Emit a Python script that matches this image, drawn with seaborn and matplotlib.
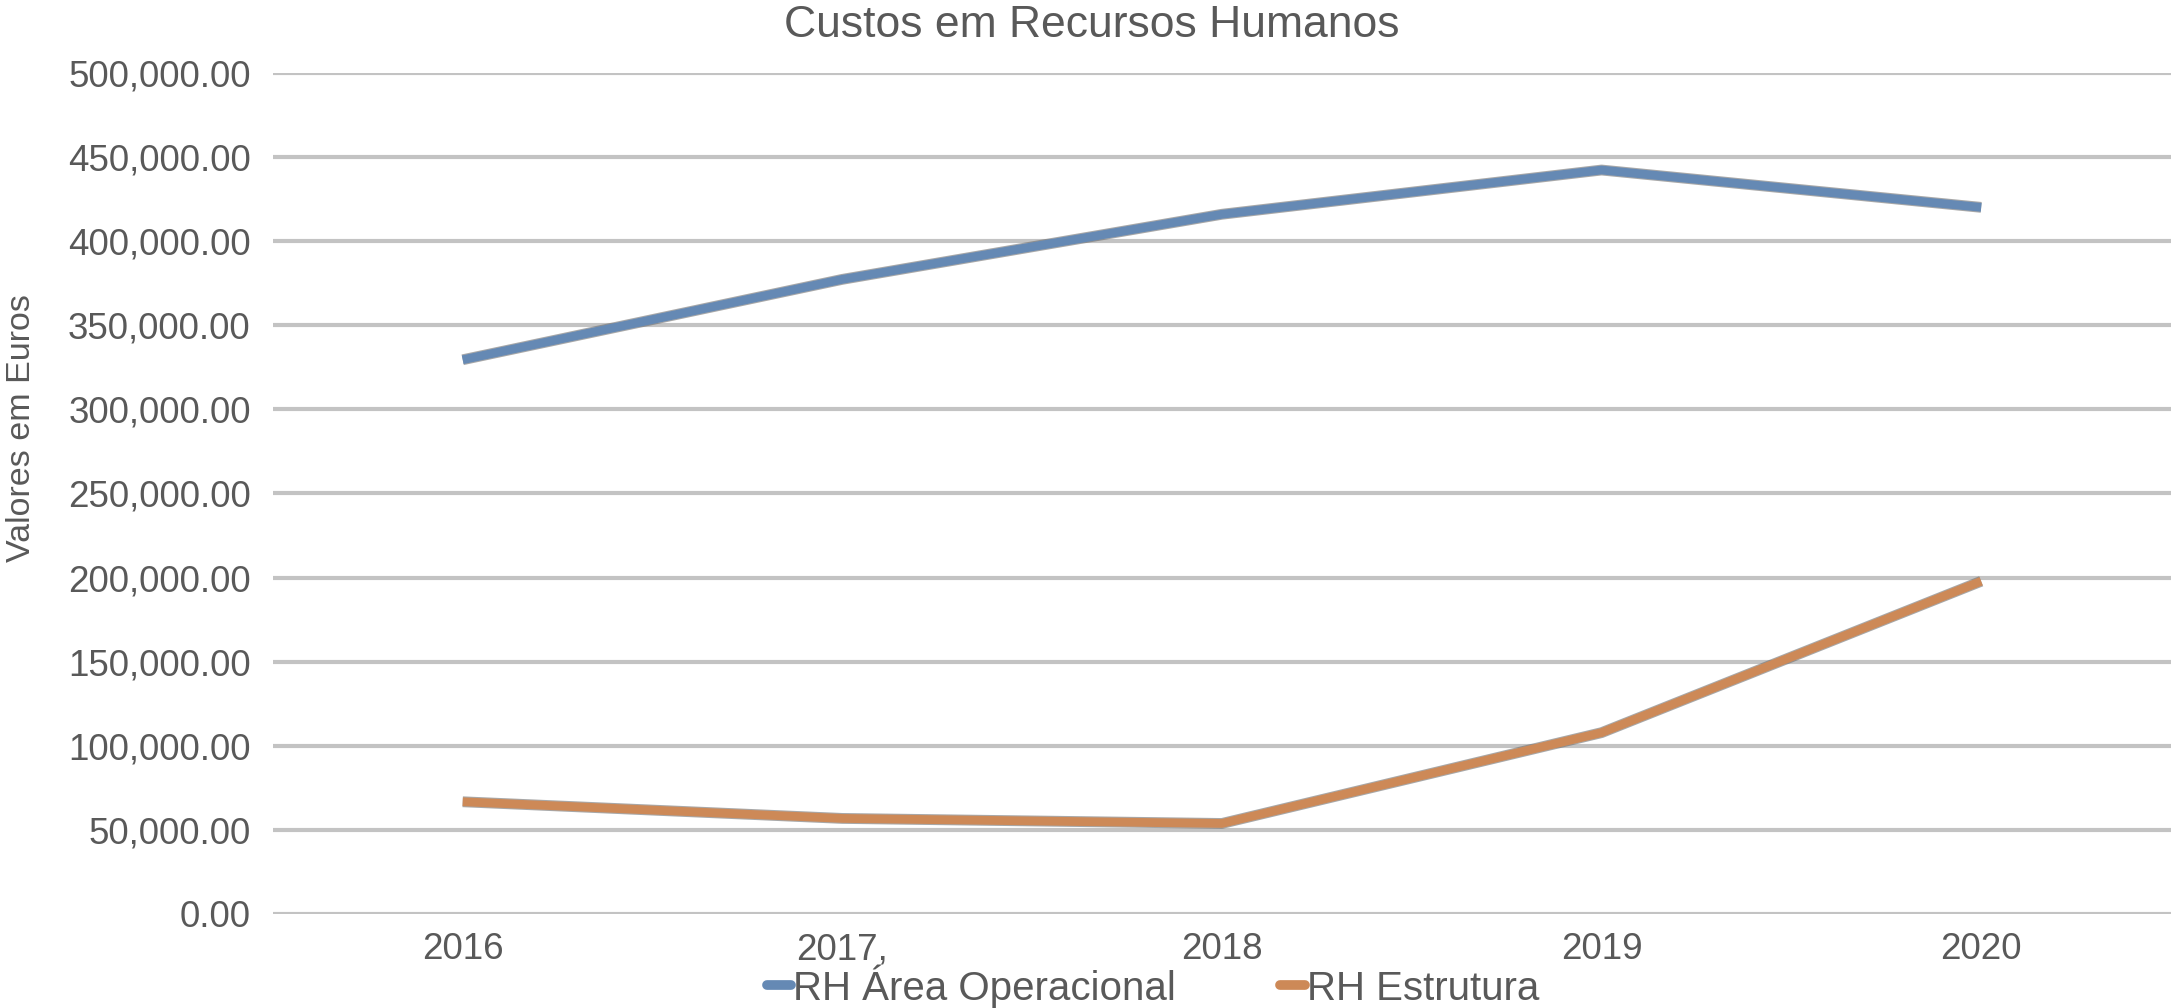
import numpy as np
import pandas as pd
import matplotlib.pyplot as plt
import matplotlib.patheffects as pe
from matplotlib.lines import Line2D
from matplotlib.ticker import FuncFormatter
import seaborn as sns


# =============================================================================
# DADOS
# =============================================================================
anos = ["2016", "2017", "2018", "2019", "2020"]
rotulos_anos = ["2016", "2017,", "2018", "2019", "2020"]

rh_operacional = [329500, 377300, 416000, 442300, 420100]
rh_estrutura = [66700, 56800, 53800, 107800, 197800]

series = ["RH Área Operacional", "RH Estrutura"]
cores = ["#6589b4", "#cd8957"]

df = pd.DataFrame(
    {
        "ano": anos * 2,
        "valor": rh_operacional + rh_estrutura,
        "serie": [series[0]] * len(anos) + [series[1]] * len(anos),
    }
)


# =============================================================================
# GRÁFICO
# =============================================================================
sns.set_theme(style="white")
plt.rcParams["font.family"] = ["Liberation Sans", "DejaVu Sans"]

cinza = "#595959"

fig = plt.figure(figsize=(21.71, 10.08), dpi=100)
ax = fig.add_axes([0.1257, 0.0933, 0.8743, 0.8343])

sns.lineplot(
    data=df,
    x="ano",
    y="valor",
    hue="serie",
    palette=cores,
    linewidth=6.3,
    legend=False,
    ax=ax,
    sort=False,
)

for linha in ax.get_lines():
    linha.set_solid_capstyle("butt")
    linha.set_path_effects(
        [pe.Stroke(linewidth=7.8, foreground="#6e6e6e", alpha=0.6), pe.Normal()]
    )

ax.set_xlim(-0.5, 4.5)
ax.set_ylim(0, 500000)
ax.set_yticks(np.arange(0, 500001, 50000))
ax.yaxis.set_major_formatter(FuncFormatter(lambda v, p: f"{v:,.2f}"))
ax.set_xticks(range(len(anos)))
ax.set_xticklabels(rotulos_anos)

ax.grid(axis="y", color="#c3c3c3", linewidth=3)
ax.set_axisbelow(True)
for lado in ["top", "right", "left", "bottom"]:
    ax.spines[lado].set_visible(False)

ax.tick_params(axis="both", length=0, labelsize=26.5, labelcolor=cinza)
ax.tick_params(axis="y", pad=16)
ax.tick_params(axis="x", pad=13)

ax.set_xlabel("")
ax.set_ylabel("")
fig.text(
    0.010, 0.575, "Valores em Euros", rotation=90, ha="center", va="center",
    fontsize=24.5, color=cinza,
)

fig.text(
    0.503, 0.975, "Custos em Recursos Humanos", ha="center", va="center",
    fontsize=32, color=cinza,
)

alcas = [Line2D([0], [0], color=c, linewidth=7) for c in cores]
fig.legend(
    alcas,
    series,
    loc="center",
    bbox_to_anchor=(0.531, 0.022),
    ncol=2,
    frameon=False,
    fontsize=29,
    labelcolor=cinza,
    handlelength=0.6,
    handletextpad=0.05,
    columnspacing=2.6,
)

fig.savefig("out.png", dpi=100)
